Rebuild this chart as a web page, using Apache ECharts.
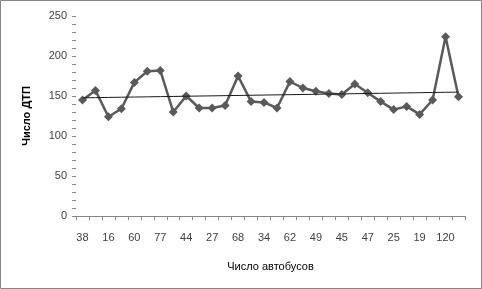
<!DOCTYPE html>
<html>
<head>
<meta charset="utf-8">
<script src="https://cdn.jsdelivr.net/npm/echarts@6/dist/echarts.min.js"></script>
<style>html,body{margin:0;padding:0;background:#fff;}#c{width:482px;height:289px;}</style>
</head>
<body>
<div id="c"></div>
<script>
// Category labels (only every second label is legible in the reference)
const categories = ['38','','16','','60','','77','','44','','27','','68','','34','','62','','49','','45','','47','','25','','19','','120',''];
// Число ДТП values
const values = [145,157,124,134,167,181,182,130,150,135,135,138,175,143,142,135,168,160,156,153,152,165,154,143,133,137,127,145,224,149];
const yTicks = [0,50,100,150,200,250];

// linear trend line (least squares over the series)
const n = values.length;
let sx=0, sy=0, sxx=0, sxy=0;
values.forEach((v,i)=>{sx+=i; sy+=v; sxx+=i*i; sxy+=i*v;});
const slope = (n*sxy - sx*sy)/(n*sxx - sx*sx);
const icpt = (sy - slope*sx)/n;
const trend = values.map((v,i)=>+(icpt + slope*i).toFixed(2));

const chart = echarts.init(document.getElementById('c'));
chart.setOption({
  animation:false,
  backgroundColor:'#fff',
  graphic:[{type:'rect',shape:{x:0.5,y:0.5,width:481,height:288},style:{fill:'none',stroke:'#868686',lineWidth:1},silent:true}],
  grid:{left:76,right:17,top:16,bottom:73},
  xAxis:{
    type:'category',data:categories,boundaryGap:true,
    name:'Число автобусов',nameLocation:'middle',nameGap:45,
    nameTextStyle:{fontFamily:'Liberation Sans',fontSize:11,color:'#000'},
    axisLine:{lineStyle:{color:'#868686',width:1}},
    axisTick:{show:true,interval:0,length:4,lineStyle:{color:'#868686'}},
    axisLabel:{interval:0,fontFamily:'Liberation Sans',fontSize:11,color:'#404040',margin:16}
  },
  yAxis:{
    type:'value',min:yTicks[0],max:yTicks[yTicks.length-1],interval:50,
    name:'Число ДТП',nameLocation:'middle',nameGap:44,
    nameTextStyle:{fontFamily:'Liberation Sans',fontSize:11,fontWeight:'bold',color:'#000'},
    axisLine:{show:false},
    axisTick:{show:true,length:4,inside:false,lineStyle:{color:'#868686'}},
    minorTick:{show:true,splitNumber:5,length:4,lineStyle:{color:'#868686'}},
    splitLine:{show:false},
    axisLabel:{fontFamily:'Liberation Sans',fontSize:11,color:'#404040',margin:9}
  },
  series:[
    {type:'line',data:values,symbol:'diamond',symbolSize:9,
     lineStyle:{color:'#5a5a5a',width:2.5},itemStyle:{color:'#5a5a5a'},z:2},
    {type:'line',data:trend,symbol:'none',lineStyle:{color:'#1a1a1a',width:1},z:3}
  ]
});
</script>
</body>
</html>
